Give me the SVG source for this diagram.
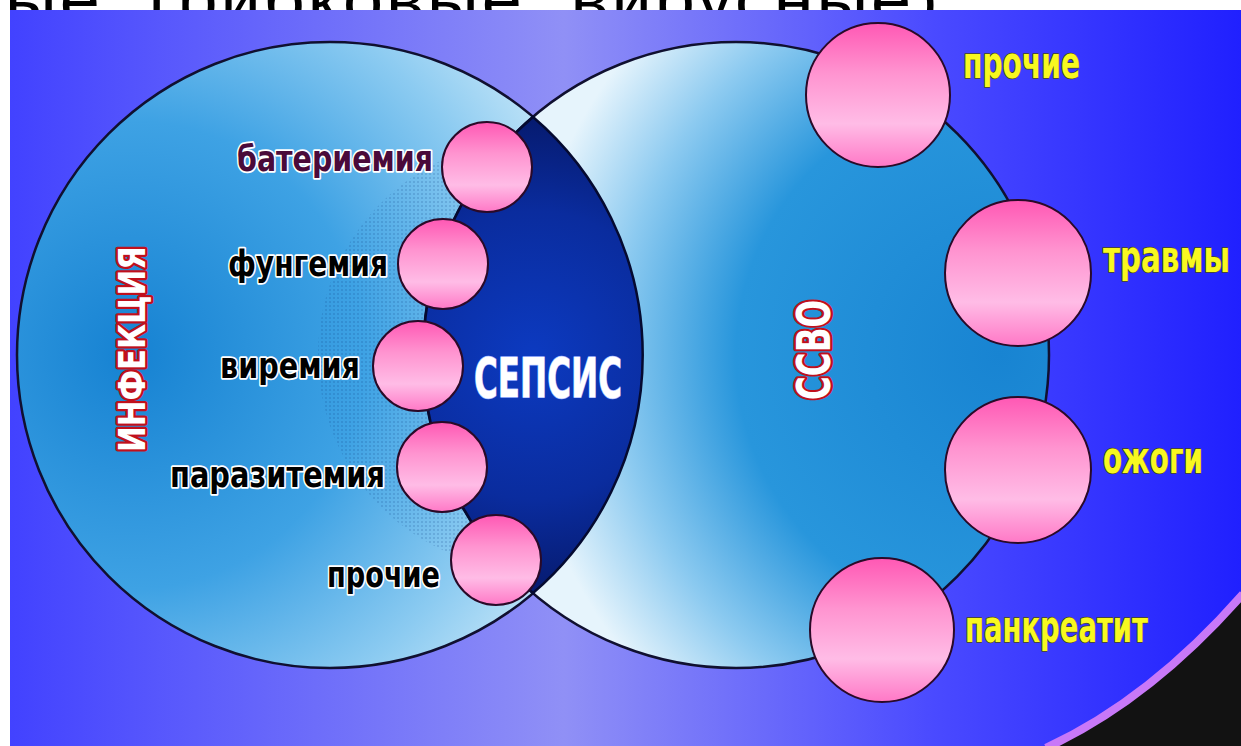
<svg xmlns="http://www.w3.org/2000/svg" width="1241" height="746" viewBox="0 0 1241 746">
<style>
.lbl{font-family:"Liberation Sans Narrow","DejaVu Sans Condensed","Liberation Sans",sans-serif;font-weight:bold;paint-order:stroke;stroke-linejoin:round}
.dark{fill:#000;stroke:#fff;stroke-width:3.5}
.yel{fill:#f8f820;stroke:#4a4a10;stroke-width:1.5}
.vert{fill:#fff;stroke:#c0101c;stroke-width:5}
.pink{fill:url(#pinkG);stroke:#2a0a28;stroke-width:2}
.big{stroke:#101030;stroke-width:2.5}
</style>
<defs>
<linearGradient id="bgG" gradientUnits="userSpaceOnUse" x1="10" y1="0" x2="1241" y2="0">
<stop offset="0" stop-color="#4242ff"/>
<stop offset="0.45" stop-color="#9090f6"/>
<stop offset="0.75" stop-color="#4a4aff"/>
<stop offset="1" stop-color="#2020ff"/>
</linearGradient>
<radialGradient id="leftG" gradientUnits="userSpaceOnUse" cx="130" cy="355" r="520">
<stop offset="0" stop-color="#1682d2"/>
<stop offset="0.45" stop-color="#3ea2e4"/>
<stop offset="0.75" stop-color="#8ccbf1"/>
<stop offset="1" stop-color="#d6eefa"/>
</radialGradient>
<radialGradient id="rightG" gradientUnits="userSpaceOnUse" cx="1000" cy="355" r="480">
<stop offset="0" stop-color="#1884d2"/>
<stop offset="0.55" stop-color="#2896dc"/>
<stop offset="0.8" stop-color="#8ccaf0"/>
<stop offset="1" stop-color="#e6f4fc"/>
</radialGradient>
<radialGradient id="lensG" gradientUnits="userSpaceOnUse" cx="533" cy="355" r="240">
<stop offset="0" stop-color="#0c3ac0"/>
<stop offset="0.6" stop-color="#0a2c9e"/>
<stop offset="1" stop-color="#061a6e"/>
</radialGradient>
<linearGradient id="pinkG" x1="0" y1="0" x2="0" y2="1">
<stop offset="0" stop-color="#ff58b4"/>
<stop offset="0.35" stop-color="#ff94d0"/>
<stop offset="0.7" stop-color="#ffbce6"/>
<stop offset="1" stop-color="#ff78c6"/>
</linearGradient>
<pattern id="dots" width="4" height="4" patternUnits="userSpaceOnUse">
<circle cx="2" cy="2" r="1" fill="#0a3a80"/>
</pattern>
<clipPath id="leftClip"><circle cx="330" cy="355" r="313"/></clipPath>
</defs>

<text x="5" y="24" font-family="'Liberation Sans',Arial,sans-serif" font-size="72" fill="#000" textLength="933">ые, грибковые, вирусные)</text>

<rect x="10" y="10" width="1231" height="736" fill="url(#bgG)"/>
<path d="M1050,746 Q1150,700 1241,596 L1241,746 Z" fill="#121212"/>
<path d="M1046,748 Q1150,700 1243,594" fill="none" stroke="#c878f8" stroke-width="8"/>

<g id="infection">
<circle class="big" cx="330" cy="355" r="313" fill="url(#leftG)"/>
<circle cx="533" cy="355" r="215" fill="url(#dots)" opacity="0.22" clip-path="url(#leftClip)"/>
<text class="lbl vert" transform="translate(145,349) rotate(-90)" text-anchor="middle" font-size="38" textLength="206" lengthAdjust="spacingAndGlyphs">ИНФЕКЦИЯ</text>
</g>

<g id="ssvo">
<circle class="big" cx="736" cy="355" r="313" fill="url(#rightG)"/>
<text class="lbl vert" transform="translate(830,350) rotate(-90)" text-anchor="middle" font-size="46" textLength="100" lengthAdjust="spacingAndGlyphs">ССВО</text>
</g>

<g id="sepsis">
<path d="M533,117 A313,313 0 0 0 533,593 A313,313 0 0 0 533,117 Z" fill="url(#lensG)" stroke="#050a30" stroke-width="2.5"/>
<text class="lbl" x="548" y="397" text-anchor="middle" font-size="55" fill="#fff" stroke="#9fb4ff" stroke-width="1.5" textLength="148" lengthAdjust="spacingAndGlyphs">СЕПСИС</text>
</g>

<g id="bacteremia">
<circle class="pink" cx="487" cy="167" r="45"/>
<text class="lbl dark" x="237" y="171" font-size="36" style="fill:#4a0a3a" textLength="196" lengthAdjust="spacingAndGlyphs">батериемия</text>
</g>
<g id="fungemia">
<circle class="pink" cx="443" cy="264" r="45"/>
<text class="lbl dark" x="228" y="276" font-size="36" textLength="160" lengthAdjust="spacingAndGlyphs">фунгемия</text>
</g>
<g id="viremia">
<circle class="pink" cx="418" cy="366" r="45"/>
<text class="lbl dark" x="220" y="378" font-size="36" textLength="140" lengthAdjust="spacingAndGlyphs">виремия</text>
</g>
<g id="parasitemia">
<circle class="pink" cx="442" cy="467" r="45"/>
<text class="lbl dark" x="170" y="487" font-size="36" textLength="215" lengthAdjust="spacingAndGlyphs">паразитемия</text>
</g>
<g id="other-infection">
<circle class="pink" cx="496" cy="560" r="45"/>
<text class="lbl dark" x="327" y="587" font-size="36" textLength="113" lengthAdjust="spacingAndGlyphs">прочие</text>
</g>

<g id="other-sirs">
<circle class="pink" cx="878" cy="95" r="72"/>
<text class="lbl yel" x="963" y="78" font-size="44" textLength="117" lengthAdjust="spacingAndGlyphs">прочие</text>
</g>
<g id="trauma">
<circle class="pink" cx="1018" cy="273" r="73"/>
<text class="lbl yel" x="1103" y="272" font-size="44" textLength="127" lengthAdjust="spacingAndGlyphs">травмы</text>
</g>
<g id="burns">
<circle class="pink" cx="1018" cy="470" r="73"/>
<text class="lbl yel" x="1103" y="473" font-size="44" textLength="100" lengthAdjust="spacingAndGlyphs">ожоги</text>
</g>
<g id="pancreatitis">
<circle class="pink" cx="882" cy="630" r="72"/>
<text class="lbl yel" x="965" y="642" font-size="44" textLength="183" lengthAdjust="spacingAndGlyphs">панкреатит</text>
</g>

<g id="connectors"/>
</svg>
